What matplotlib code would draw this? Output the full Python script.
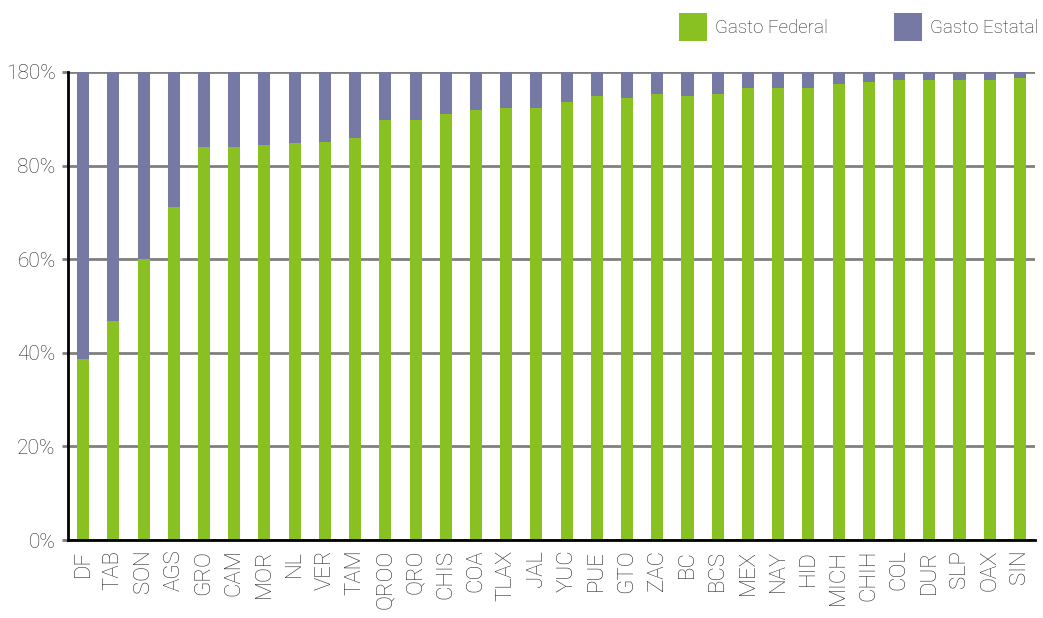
#!/usr/bin/env python3
"""Gasto federal vs estatal por entidad (barras apiladas al 100%)."""

import matplotlib
matplotlib.use("Agg")
import matplotlib.pyplot as plt
import numpy as np
from matplotlib.patches import Patch

STATES = [
    "DF", "TAB", "SON", "AGS", "GRO", "CAM", "MOR", "NL", "VER", "TAM",
    "QROO", "QRO", "CHIS", "COA", "TLAX", "JAL", "YUC", "PUE", "GTO", "ZAC",
    "BC", "BCS", "MEX", "NAY", "HID", "MICH", "CHIH", "COL", "DUR", "SLP",
    "OAX", "SIN",
]
FEDERAL = [
    38.7, 46.8, 60.0, 71.2, 84.0, 84.0, 84.4, 84.8, 85.0, 85.8,
    89.7, 89.7, 91.0, 91.9, 92.3, 92.3, 93.6, 94.9, 94.4, 95.3,
    94.9, 95.3, 96.6, 96.6, 96.6, 97.4, 97.9, 98.3, 98.3, 98.3,
    98.3, 98.7,
]
ESTATAL = [100 - v for v in FEDERAL]

Y_TICKS = [0, 20, 40, 60, 80, 100]
Y_LABELS = ["0%", "20%", "40%", "60%", "80%", "180%"]

GREEN = "#8AC122"
PURPLE = "#7679A3"
TEXT = "#2a2a2a"

plt.rcParams["font.family"] = ["Roboto", "DejaVu Sans"]
plt.rcParams["font.weight"] = "light"

fig = plt.figure(figsize=(10.43, 6.18), dpi=100)
ax = fig.add_axes([0.0652, 0.1262, 0.9272, 0.7573])

x = np.arange(len(STATES))
ax.bar(x, FEDERAL, width=0.4, color=GREEN, zorder=3)
ax.bar(x, ESTATAL, bottom=FEDERAL, width=0.4, color=PURPLE, zorder=3)

ax.set_xlim(-0.5, len(STATES) - 0.5)
ax.set_ylim(0, 100)
ax.set_yticks(Y_TICKS)
ax.set_yticklabels(Y_LABELS)
ax.set_xticks(x)
ax.set_xticklabels(STATES, rotation=90)
ax.tick_params(axis="x", length=0, labelsize=16, colors=TEXT, pad=7)
ax.tick_params(axis="y", length=4, width=2, color="#808080", labelsize=15,
               labelcolor=TEXT, pad=5)

ax.yaxis.grid(True, color="#808080", linewidth=2, zorder=1)
ax.set_axisbelow(True)
for side in ["top", "right"]:
    ax.spines[side].set_visible(False)
ax.spines["left"].set_linewidth(2)
ax.spines["bottom"].set_linewidth(2)
ax.spines["left"].set_color("black")
ax.spines["bottom"].set_color("black")
ax.spines["bottom"].set_zorder(4)

handles = [
    Patch(facecolor=GREEN, edgecolor="none", label="Gasto Federal"),
    Patch(facecolor=PURPLE, edgecolor="none", label="Gasto Estatal"),
]
fig.legend(
    handles=handles,
    loc="upper right",
    bbox_to_anchor=(1.012, 1.006),
    ncol=2,
    frameon=False,
    fontsize=13.5,
    handlelength=1.5,
    handleheight=1.9,
    handletextpad=0.45,
    columnspacing=3.5,
    labelcolor=TEXT,
)

fig.savefig("out.png", dpi=100)
